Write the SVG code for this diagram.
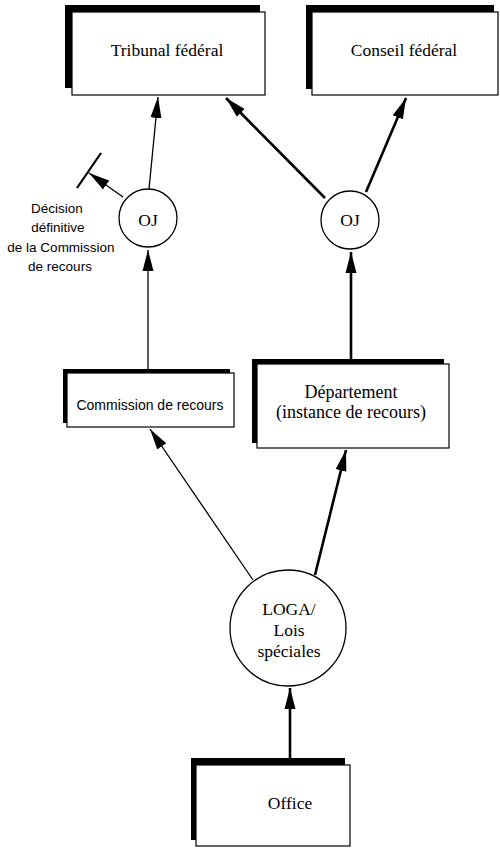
<svg xmlns="http://www.w3.org/2000/svg" width="500" height="848" viewBox="0 0 500 848">
<style>
.shadow{fill:#000}
.box{fill:#fff;stroke:#000;stroke-width:1.2}
.circ{fill:#fff;stroke:#000;stroke-width:1.3}
.lbl{font-family:"Liberation Serif","Times New Roman",serif;font-size:17.5px;fill:#000;text-anchor:middle}
.sans{font-family:"Liberation Sans",Arial,sans-serif;fill:#000;text-anchor:middle}
.thin{stroke:#000;stroke-width:1.3;fill:none}
.thick{stroke:#000;stroke-width:2.6;fill:none}
</style>
<defs>
<marker id="ah" markerUnits="userSpaceOnUse" markerWidth="22" markerHeight="12" refX="21" refY="6" orient="auto">
<path d="M0,0.5 L21,6 L0,11.5 z" fill="#000"/>
</marker>
</defs>
<rect width="500" height="848" fill="#fff"/>
<g id="connectors">
<line class="thin" x1="149" y1="189" x2="158" y2="97" marker-end="url(#ah)"/>
<line class="thick" x1="325" y1="198" x2="226" y2="98" marker-end="url(#ah)"/>
<line class="thick" x1="366" y1="192" x2="406" y2="98" marker-end="url(#ah)"/>
<line class="thin" x1="123" y1="197" x2="89" y2="173" marker-end="url(#ah)"/>
<line class="thick" x1="77" y1="188" x2="101" y2="153" style="stroke-width:2.2"/>
<line class="thin" x1="148" y1="371" x2="148" y2="250" marker-end="url(#ah)"/>
<line class="thick" x1="351" y1="362" x2="351" y2="252" marker-end="url(#ah)"/>
<line class="thin" x1="253" y1="580" x2="150" y2="429" marker-end="url(#ah)"/>
<line class="thick" x1="315" y1="575" x2="346" y2="450" marker-end="url(#ah)"/>
<line class="thick" x1="290" y1="763" x2="290" y2="688" marker-end="url(#ah)"/>
</g>
<g id="tribunal">
<rect class="shadow" x="65" y="5" width="195" height="83"/>
<rect class="box" x="72" y="12" width="193" height="83"/>
<text class="lbl" x="167" y="56">Tribunal fédéral</text>
</g>
<g id="conseil">
<rect class="shadow" x="306" y="5" width="188" height="84"/>
<rect class="box" x="312" y="12" width="186" height="83"/>
<text class="lbl" x="404" y="56">Conseil fédéral</text>
</g>
<g id="oj-left">
<circle class="circ" cx="148" cy="218" r="29"/>
<text class="lbl" x="148" y="226">OJ</text>
</g>
<g id="oj-right">
<circle class="circ" cx="350" cy="220" r="29"/>
<text class="lbl" x="350" y="226">OJ</text>
</g>
<g id="decision-label">
<text class="sans" font-size="13.5" x="57" y="213">Décision</text>
<text class="sans" font-size="13.5" x="58" y="232">définitive</text>
<text class="sans" font-size="13.5" x="61" y="252">de la Commission</text>
<text class="sans" font-size="13.5" x="60" y="271">de recours</text>
</g>
<g id="commission">
<rect class="shadow" x="63" y="369" width="167" height="54"/>
<rect class="box" x="67" y="373" width="167" height="54"/>
<text class="sans" font-size="14" x="150" y="410">Commission de recours</text>
</g>
<g id="departement">
<rect class="shadow" x="252" y="359" width="192" height="84"/>
<rect class="box" x="257" y="364" width="192" height="84"/>
<text class="lbl" x="351" y="398" style="font-size:18px">Département</text>
<text class="lbl" x="351" y="418" style="font-size:18px">(instance de recours)</text>
</g>
<g id="loga">
<circle class="circ" cx="288" cy="628" r="58"/>
<text class="lbl" x="289" y="615">LOGA/</text>
<text class="lbl" x="289" y="636">Lois</text>
<text class="lbl" x="289" y="657">spéciales</text>
</g>
<g id="office">
<rect class="shadow" x="191" y="758" width="154" height="82"/>
<rect class="box" x="196" y="765" width="154" height="81"/>
<text class="lbl" x="290" y="809">Office</text>
</g>
</svg>
